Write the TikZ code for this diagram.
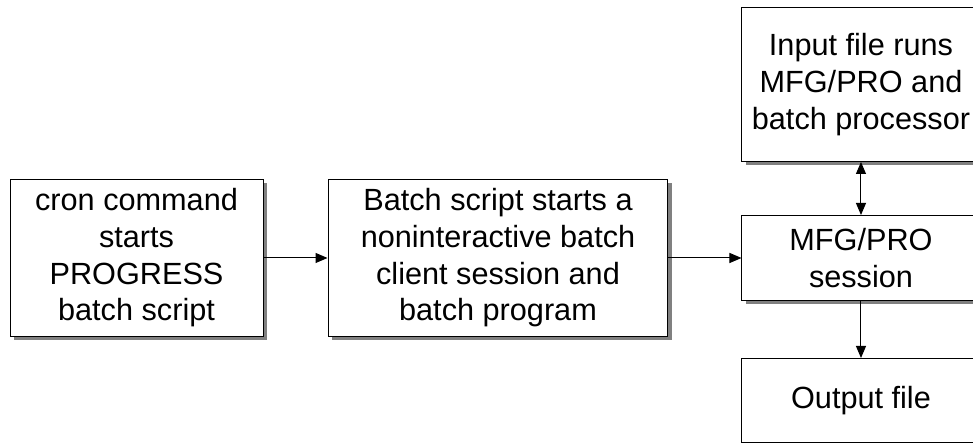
\documentclass[tikz,border=0pt]{standalone}
\usepackage{fontspec}
\setmainfont{Liberation Sans}
\usepackage{tikz}
\usetikzlibrary{shadows}
\usetikzlibrary{positioning}
\usetikzlibrary{arrows.meta}
\tikzset{flow step/.style={draw=black, rectangle, line width=0.75pt, fill=white, align=center, inner sep=0pt,
  font=\fontsize{23}{27.5}\selectfont,
  drop shadow={shadow xshift=3pt, shadow yshift=-3pt, fill=gray, opacity=1}}}

\begin{document}
\begin{tikzpicture}[node distance=48pt, >={Triangle[length=9pt,width=7.5pt]}, line width=0.75pt]
\clip (-102.4pt,-138.75pt) rectangle (627.4pt,193.5pt);
\node[flow step, minimum width=189.75pt, minimum height=117.75pt] (cron) {cron command\\starts\\PROGRESS\\batch script};
\node[flow step, minimum width=255pt, minimum height=117.75pt, right=of cron] (script) {Batch script starts a\\noninteractive batch\\client session and\\batch program};
\node[flow step, minimum width=178.5pt, minimum height=63.75pt, right=54.75pt of script] (session) {MFG/PRO\\session};
\node[flow step, minimum width=178.5pt, minimum height=115.5pt, above=39.75pt of session] (input) {Input file runs\\MFG/PRO and\\batch processor};
\node[flow step, minimum width=178.5pt, minimum height=63pt, below=42.75pt of session] (output) {Output file};
\draw [->] (cron) to (script);
\draw [->] (script) to (session);
\draw [<->] (input) to (session);
\draw [->] (session) to (output);
\end{tikzpicture}
\end{document}
